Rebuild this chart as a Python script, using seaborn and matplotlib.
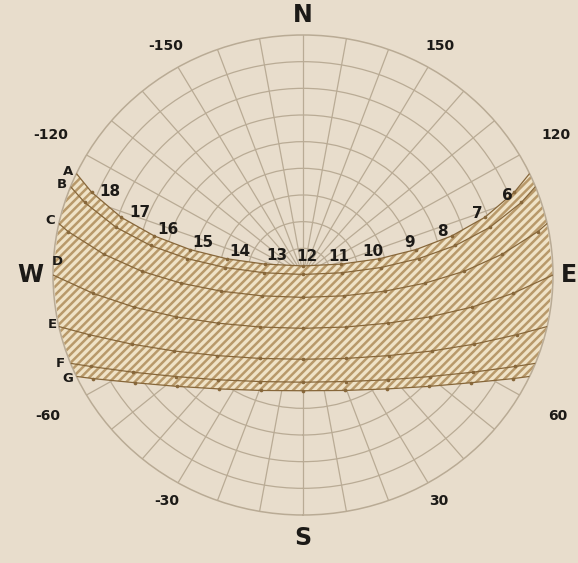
import numpy as np
import matplotlib
matplotlib.use('Agg')
import matplotlib.pyplot as plt
import seaborn as sns

# ============================================================================
# DATA  (azimuth: degrees from south, + towards east; altitude in degrees)
# ============================================================================

day_labels = ['A', 'B', 'C', 'D', 'E', 'F', 'G']

# azimuth where each day line meets the horizon (sunrise side, east)
rise_az = [115.0, 111.6, 102.4, 90.0, 77.6, 68.4, 65.0]

hours_long = [6, 7, 8, 9, 10, 11, 12, 13, 14, 15, 16, 17, 18]
hours_short = [7, 8, 9, 10, 11, 12, 13, 14, 15, 16, 17]

a_az = [112.2, 108.3, 105.3, 103.2, 102.5, 106.5, 180.0,
        -106.5, -102.5, -103.2, -105.3, -108.3, -112.2]
a_alt = [7.8, 21.0, 34.5, 48.2, 61.9, 75.6, 86.6,
         75.6, 61.9, 48.2, 34.5, 21.0, 7.8]

b_az = [109.1, 104.9, 101.4, 98.4, 95.7, 93.4, 180.0,
        -93.4, -95.7, -98.4, -101.4, -104.9, -109.1]
b_alt = [6.8, 20.3, 34.0, 47.9, 61.9, 75.9, 89.8,
         75.9, 61.9, 47.9, 34.0, 20.3, 6.8]

c_az = [100.9, 96.2, 91.4, 86.0, 78.3, 62.1, 0.0,
        -62.1, -78.3, -86.0, -91.4, -96.2, -100.9]
c_alt = [3.9, 17.9, 31.9, 46.0, 60.0, 73.3, 81.6,
         73.3, 60.0, 46.0, 31.9, 17.9, 3.9]

d_az = [84.8, 78.8, 71.1, 59.4, 38.1, 0.0, -38.1, -59.4, -71.1, -78.8, -84.8]
d_alt = [14.1, 28.0, 41.6, 54.5, 65.2, 70.0, 65.2, 54.5, 41.6, 28.0, 14.1]

e_az = [73.8, 67.2, 58.4, 45.6, 26.3, 0.0, -26.3, -45.6, -58.4, -67.2, -73.8]
e_alt = [9.8, 23.1, 35.6, 46.8, 55.1, 58.4, 55.1, 46.8, 35.6, 23.1, 9.8]

f_az = [65.8, 59.2, 50.3, 37.9, 21.0, 0.0, -21.0, -37.9, -50.3, -59.2, -65.8]
f_alt = [6.3, 18.8, 30.4, 40.2, 47.2, 49.8, 47.2, 40.2, 30.4, 18.8, 6.3]

g_az = [62.8, 56.3, 47.4, 35.4, 19.4, 0.0, -19.4, -35.4, -47.4, -56.3, -62.8]
g_alt = [5.0, 17.2, 28.3, 37.6, 44.1, 46.6, 44.1, 37.6, 28.3, 17.2, 5.0]

day_hours = [hours_long, hours_long, hours_long,
             hours_short, hours_short, hours_short, hours_short]
day_az = [a_az, b_az, c_az, d_az, e_az, f_az, g_az]
day_alt = [a_alt, b_alt, c_alt, d_alt, e_alt, f_alt, g_alt]

ring_alts = [10, 20, 30, 40, 50, 60, 70, 80]
azimuth_ticks = [-150, -120, -60, -30, 30, 60, 120, 150]
compass = ['S', 'E', 'N', 'W']
compass_az = [0, 90, 180, -90]

# ============================================================================
# STYLE
# ============================================================================

bg = '#e8ddcc'
grid_col = '#b9ab95'
line_col = '#87673a'
txt_col = '#1c1a17'

sns.set_theme(style='white')
plt.rcParams['font.family'] = ['DejaVu Sans']
plt.rcParams['hatch.linewidth'] = 1.8

# text placement (pixels offset from the points they belong to)
hour_offsets = {6: (-7, -3), 7: (-8, 4), 8: (-9, 4), 9: (-6, 7), 10: (-6, 7),
                11: (-3, 8), 12: (4, 9), 13: (12, 9), 14: (13, 7),
                15: (13, 7), 16: (14, 6), 17: (19, 5), 18: (18, 1)}
letter_offsets = [(-8, 2), (-9, 2), (-9, 3), (4, 13), (-7, 2), (-10, 0), (-9, -2)]
tick_radius = {30: 98, 60: 106, 120: 105, 150: 99}
compass_radius = {'S': 98.6, 'E': 95.6, 'N': 97.5, 'W': 98.3}


def day_path(i):
    az = [rise_az[i]] + day_az[i] + [-rise_az[i]]
    alt = [0.0] + day_alt[i] + [0.0]
    theta = np.unwrap(np.deg2rad(az))
    return theta, 90 - np.array(alt)


# ============================================================================
# PLOT
# ============================================================================

fig = plt.figure(figsize=(5.78, 5.63), dpi=100, facecolor=bg)
ax = fig.add_axes([53 / 578, 48 / 563, 500 / 578, 480 / 563], projection='polar')
ax.set_facecolor(bg)
ax.set_theta_zero_location('S')
ax.set_theta_direction(1)
ax.set_ylim(0, 90)
ax.set_xticks(np.deg2rad(np.arange(0, 360, 10)))
ax.set_yticks(ring_alts)
ax.set_xticklabels([])
ax.set_yticklabels([])
ax.grid(True, color=grid_col, linewidth=0.9)
ax.spines['polar'].set_color(grid_col)
ax.spines['polar'].set_linewidth(1.1)
ax.set_axisbelow(True)

# hatched band between the A and G day lines
band_az = ([rise_az[0]] + a_az + [-rise_az[0]]
           + [-v for v in rise_az[1:6]]
           + [-rise_az[6]] + g_az[::-1] + [rise_az[6]]
           + rise_az[5:0:-1])
band_alt = ([0.0] + a_alt + [0.0] + [0.0] * 5
            + [0.0] + g_alt[::-1] + [0.0] + [0.0] * 5)
band_theta = np.unwrap(np.deg2rad(band_az))
ax.fill(band_theta, 90 - np.array(band_alt), facecolor='#efe2c6',
        edgecolor='#b8996a', hatch='////', linewidth=0, zorder=2)

for i, name in enumerate(day_labels):
    theta, r = day_path(i)
    sns.lineplot(x=theta, y=r, ax=ax, sort=False, estimator=None,
                 color=line_col, linewidth=0.9, zorder=3)
    th_h = np.deg2rad(day_az[i])
    r_h = 90 - np.array(day_alt[i])
    sns.scatterplot(x=th_h, y=r_h, ax=ax, s=7, color=line_col,
                    linewidth=0, zorder=4)
    # day letter at the sunset end
    ax.annotate(name, xy=(np.deg2rad(-rise_az[i]), 90),
                xytext=letter_offsets[i], textcoords='offset pixels',
                ha='center', va='center', fontsize=9.5, fontweight='bold',
                color=txt_col, annotation_clip=False)

# hour numbers along line A
for h, az, alt in zip(hours_long, a_az, a_alt):
    ax.annotate(str(h), xy=(np.deg2rad(az), 90 - alt),
                xytext=hour_offsets[h], textcoords='offset pixels',
                ha='center', va='center', fontsize=11, fontweight='bold',
                color=txt_col, zorder=5)

for a in azimuth_ticks:
    ax.text(np.deg2rad(a), tick_radius[abs(a)], str(a), ha='center',
            va='center', fontsize=10, fontweight='bold', color=txt_col,
            clip_on=False)

for c, a in zip(compass, compass_az):
    ax.text(np.deg2rad(a), compass_radius[c], c, ha='center', va='center',
            fontsize=17, fontweight='bold', color=txt_col, clip_on=False)

ax.set_xlabel('')
ax.set_ylabel('')
ax.set_aspect('auto')

plt.savefig('out.png', dpi=100, facecolor=bg)
